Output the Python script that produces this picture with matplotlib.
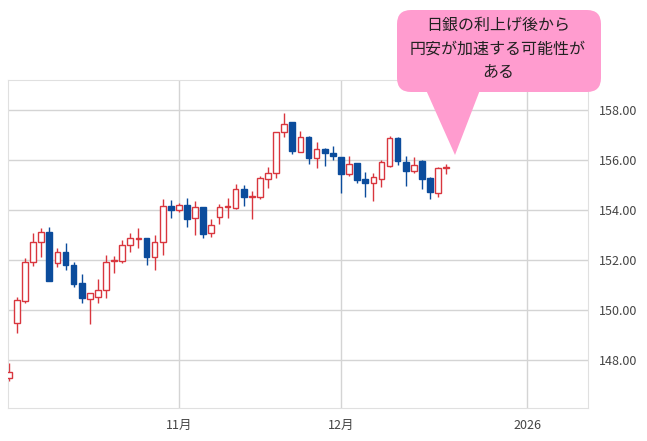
import numpy as np
import pandas as pd
import matplotlib
matplotlib.use("Agg")
import matplotlib.pyplot as plt
from matplotlib.patches import FancyBboxPatch, Polygon

plt.rcParams['font.family'] = ['Noto Sans CJK JP', 'DejaVu Sans']

# daily USD/JPY candles (trading days from 2025-10-03)
opens = [147.28, 149.48, 150.36, 151.92, 152.72, 153.12, 151.88, 152.32, 151.80, 151.08,
         150.44, 150.52, 150.80, 151.94, 151.96, 152.60, 152.82, 152.88, 152.12, 152.72,
         154.16, 154.00, 154.20, 153.68, 154.12, 153.08, 153.72, 154.10, 154.08, 154.84,
         154.50, 154.52, 155.24, 155.48, 157.12, 157.52, 156.32, 156.92, 156.08, 156.44,
         156.28, 156.12, 155.44, 155.88, 155.24, 155.08, 155.24, 155.76, 156.88, 155.92,
         155.56, 155.96, 155.28, 154.68, 155.66]
closes = [147.53, 150.40, 151.92, 152.72, 153.12, 151.16, 152.32, 151.80, 151.04, 150.48,
          150.68, 150.80, 151.92, 151.98, 152.60, 152.88, 152.86, 152.12, 152.72, 154.16,
          154.00, 154.20, 153.64, 154.12, 153.04, 153.40, 154.12, 154.16, 154.84, 154.52,
          154.56, 155.28, 155.48, 157.12, 157.44, 156.36, 156.92, 156.08, 156.44, 156.28,
          156.16, 155.44, 155.84, 155.20, 155.08, 155.32, 155.92, 156.88, 155.96, 155.56,
          155.80, 155.24, 154.72, 155.68, 155.70]
highs = [147.88, 150.52, 152.08, 153.08, 153.28, 153.32, 152.48, 152.68, 151.92, 151.44,
         150.68, 151.24, 152.20, 152.16, 152.80, 153.08, 153.28, 152.88, 153.00, 154.44,
         154.40, 154.28, 154.48, 154.36, 154.12, 153.64, 154.24, 154.48, 155.04, 155.00,
         154.76, 155.36, 155.72, 157.12, 157.88, 157.52, 157.16, 156.96, 156.72, 156.48,
         156.56, 156.12, 156.16, 155.88, 155.52, 155.48, 156.00, 156.96, 156.92, 156.16,
         156.12, 156.00, 155.32, 155.72, 155.84]
lows = [147.16, 149.08, 150.28, 151.76, 152.12, 151.16, 151.72, 151.60, 150.92, 150.28,
        149.44, 150.28, 150.48, 151.48, 151.88, 152.32, 152.48, 151.80, 151.60, 152.20,
        153.68, 153.92, 153.32, 153.00, 152.88, 152.92, 153.44, 153.68, 154.04, 154.16,
        153.64, 154.44, 154.88, 155.28, 156.92, 156.24, 156.32, 155.84, 155.68, 155.76,
        156.00, 154.68, 155.36, 155.08, 154.52, 154.36, 154.92, 155.72, 155.80, 154.96,
        155.48, 154.84, 154.44, 154.52, 155.44]

dates = pd.bdate_range("2025-10-03", periods=90)
month_ticks = ["2025-11-03", "2025-12-01", "2026-01-01"]
month_labels = ["11月", "12月", "2026"]
yticks = [148, 150, 152, 154, 156, 158]

red = "#d9363e"
blue = "#0b4c9c"
grid = "#d4d4d4"

fig = plt.figure(figsize=(6.47, 4.41), dpi=100)
ax = fig.add_axes([8 / 647, 33 / 441, 580 / 647, 328 / 441])

x = np.arange(len(opens))
for i, o, c, h, l in zip(x, opens, closes, highs, lows):
    up = c >= o
    col = red if up else blue
    ax.vlines(i, l, h, color=col, lw=1, zorder=2)
    lo, hi = min(o, c), max(o, c)
    ax.bar(i, max(hi - lo, 0.04), bottom=lo, width=0.7,
           facecolor="white" if up else blue, edgecolor=col, lw=1, zorder=3)

tick_pos = [dates.searchsorted(pd.Timestamp(d)) for d in month_ticks]
ax.set_xticks(tick_pos)
ax.set_xticklabels(month_labels)
ax.set_xlim(-0.1, 71.5)
ax.set_ylim(146.08, 159.2)
ax.set_yticks(yticks)
ax.set_yticklabels([f"{v:.2f}" for v in yticks])
ax.yaxis.tick_right()
ax.grid(True, color=grid, lw=1, zorder=0)
ax.tick_params(length=0, labelsize=9, colors="#444444", pad=8)
for s in ax.spines.values():
    s.set_color("#e0e0e0")

# callout (pixel coords, origin bottom-left)
box = FancyBboxPatch((397, 441 - 92), 204, 82, boxstyle="round,pad=0,rounding_size=14",
                     transform=None, facecolor="#ff9ccf", edgecolor="none", zorder=10)
fig.patches.append(box)
tri = Polygon([[426, 441 - 90], [480, 441 - 90], [455, 441 - 155]], closed=True,
              transform=None, facecolor="#ff9ccf", edgecolor="none", zorder=10)
fig.patches.append(tri)
for k, line in enumerate(["日銀の利上げ後から", "円安が加速する可能性が", "ある"]):
    fig.text(498 / 647, 1 - (25 + k * 24) / 441, line, ha="center", va="center",
             fontsize=11.5, color="#222222", zorder=11)

fig.savefig("out.png", dpi=100)
